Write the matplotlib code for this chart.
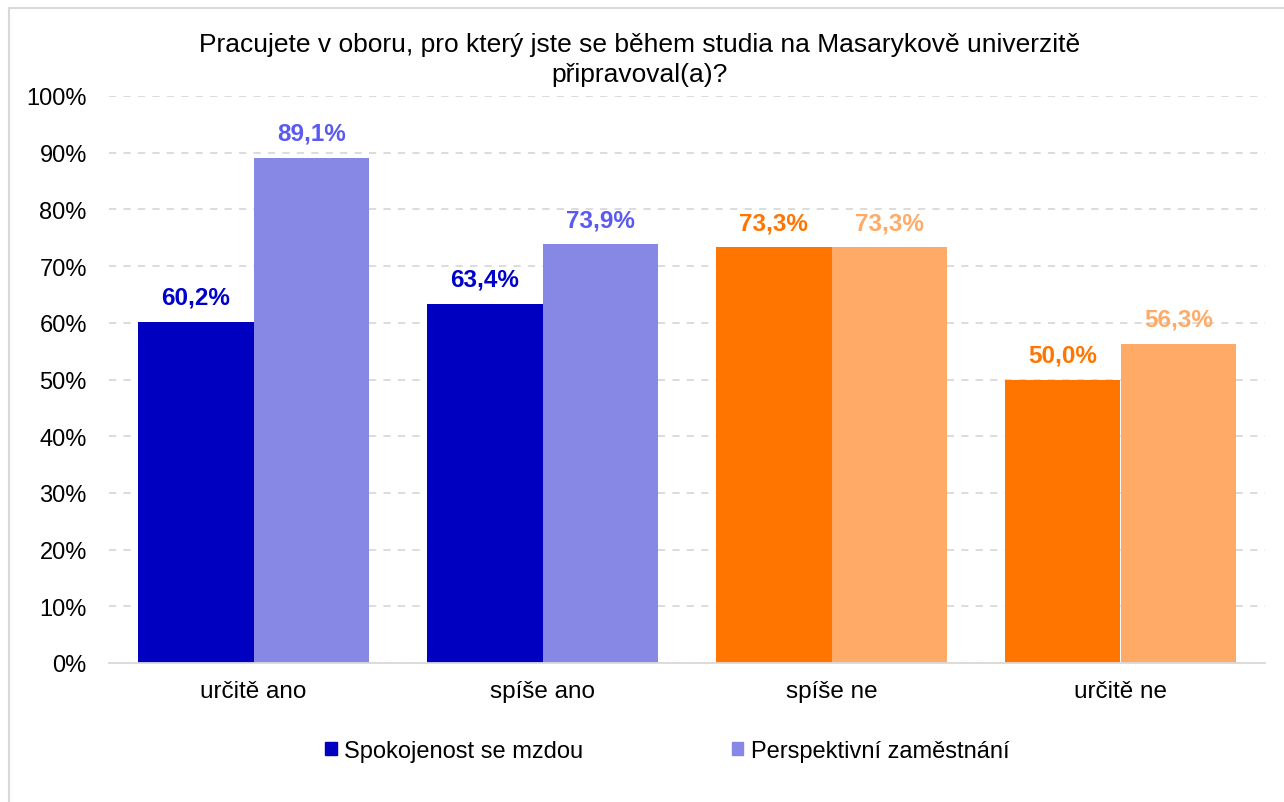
import numpy as np
import matplotlib.pyplot as plt
from matplotlib.patches import Rectangle, Patch

plt.rcParams['font.family'] = ['Liberation Sans', 'DejaVu Sans']

categories = ['určitě ano', 'spíše ano', 'spíše ne', 'určitě ne']
mzda = [60.2, 63.4, 73.3, 50.0]
perspektiva = [89.1, 73.9, 73.3, 56.3]
series_names = ['Spokojenost se mzdou', 'Perspektivní zaměstnání']

dark_colors = ['#0000C0', '#0000C0', '#FF7500', '#FF7500']
light_colors = ['#8787E6', '#8787E6', '#FFAA66', '#FFAA66']
dark_label = ['#0000CC', '#0000CC', '#FF7500', '#FF7500']
light_label = ['#5A5AF0', '#5A5AF0', '#FFAA66', '#FFAA66']

fig = plt.figure(figsize=(12.84, 8.03), dpi=100)
ax = fig.add_axes([109/1284, 1-664/803, 1156/1284, 567/803])

x = np.arange(len(categories))
w = 0.40
ax.bar(x - w/2, mzda, w, color=dark_colors, zorder=2)
ax.bar(x + w/2, perspektiva, w, color=light_colors, zorder=2)

for i in range(len(categories)):
    ax.text(x[i] - w/2, mzda[i] + 4.3, f'{mzda[i]:.1f}%'.replace('.', ','),
            ha='center', va='center', fontsize=17.5, fontweight='bold', color=dark_label[i], zorder=1)
    ax.text(x[i] + w/2, perspektiva[i] + 4.3, f'{perspektiva[i]:.1f}%'.replace('.', ','),
            ha='center', va='center', fontsize=17.5, fontweight='bold', color=light_label[i], zorder=1)

ax.set_xlim(-0.5, len(categories) - 0.5)
ax.set_ylim(0, 100)
ax.set_yticks(np.arange(0, 101, 10))
ax.set_yticklabels([f'{v}%' for v in range(0, 101, 10)])
ax.set_xticks(x)
ax.set_xticklabels(categories)
ax.tick_params(axis='both', length=0, labelsize=17, colors='black')
ax.tick_params(axis='x', labelsize=17.5, pad=12)
ax.tick_params(axis='y', pad=16)
ax.grid(axis='y', color='#D9D9D9', linestyle=(0, (4, 4)), linewidth=1.3, zorder=0)
ax.set_axisbelow(True)
for s in ['top', 'right', 'left']:
    ax.spines[s].set_visible(False)
ax.spines['bottom'].set_color('#D9D9D9')
ax.spines['bottom'].set_linewidth(1.3)

fig.text(640/1284, 1-45/803, 'Pracujete v oboru, pro který jste se během studia na Masarykově univerzitě',
         ha='center', va='center', fontsize=19)
fig.text(640/1284, 1-75/803, 'připravoval(a)?', ha='center', va='center', fontsize=19)

handles = [Patch(color='#0000C0'), Patch(color='#8787E6')]
fig.legend(handles, series_names, loc='center', bbox_to_anchor=(667/1284, 1-752/803),
           ncol=2, frameon=False, fontsize=17, handlelength=0.5, handleheight=0.5,
           handletextpad=0.3, columnspacing=6.3)

fig.patches.append(Rectangle((8.5/1284, -0.01), 1.2, 1 - 9/803 + 0.01, transform=fig.transFigure,
                             fill=False, edgecolor='#D9D9D9', linewidth=1.5))

fig.savefig('out.png', dpi=100)
